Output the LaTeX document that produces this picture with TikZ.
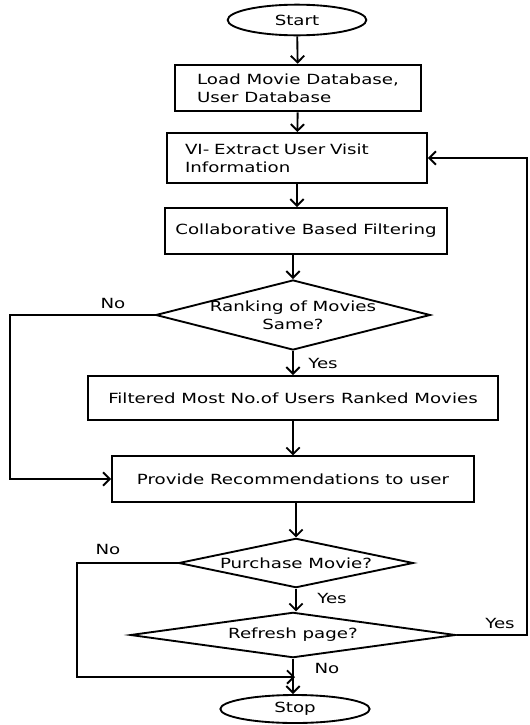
\documentclass[tikz,border=0pt]{standalone}
\usepackage{fontspec}
\setmainfont{DejaVu Sans}[FakeStretch=1.3]
\usetikzlibrary{arrows.meta,shapes}

\begin{document}
\begin{tikzpicture}[x=0.75pt,y=-0.75pt,line width=1.4pt,
  every node/.style={font=\fontsize{10.5}{13.5}\selectfont},
  >={Straight Barb[length=5pt,width=10pt]},
  term/.style={draw,ellipse,inner sep=0pt},
  box/.style={draw,rectangle,inner sep=0pt},
  decision/.style={draw,diamond,inner xsep=0pt,inner ysep=-4pt,align=center}]
\useasboundingbox (0,0) rectangle (530,725);

\node[term, minimum width=104pt, minimum height=23pt] (start) at (297,20) {Start};

\node[box, minimum width=185pt, minimum height=35pt, align=left] (load) at (298,88) {Load Movie Database,\\User Database};

\node[box, minimum width=195pt, minimum height=37.5pt, text width=168pt, align=left] (visit) at (297,158) {VI- Extract User Visit\\Information};

\node[box, minimum width=212pt, minimum height=34.5pt] (collab) at (306,231) {Collaborative Based Filtering};

\node[decision, aspect=3.9, minimum width=206pt, minimum height=52.5pt] (rank) at (293,315) {Ranking of Movies\\Same?};

\node[box, minimum width=308pt, minimum height=33pt] (filtered) at (293,398) {Filtered Most No.of Users Ranked Movies};

\node[box, minimum width=271.5pt, minimum height=34pt] (provide) at (293,479) {Provide Recommendations to user};

\node[decision, aspect=4.8, minimum width=176pt, minimum height=37pt] (purchase) at (296,563) {Purchase Movie?};

\node[decision, aspect=7.2, minimum width=244pt, minimum height=34pt] (refresh) at (293,635) {Refresh page?};

\node[term, minimum width=112pt, minimum height=21pt] (stop) at (295,709) {Stop};

% labels on the branches
\node (rankno) at (113,303) {No};
\node (rankyes) at (323,363) {Yes};
\node (buyno) at (108,549) {No};
\node (buyyes) at (332,598) {Yes};
\node (refyes) at (500,623) {Yes};
\node (refno) at (327,668) {No};

\coordinate (back) at (527,0);
\coordinate (leftA) at (10,0);
\coordinate (leftB) at (77,677);

\draw[->] (start) -- (load);
\draw[->] (load) -- (visit);
\draw[->] (visit) -- (visit |- collab.north);
\draw[->] (collab.south -| rank.north) -- (rank.north);
\draw[->] (rank) -- (filtered);
\draw[->] (filtered) -- (provide);
\draw[->] (provide.south -| purchase.north) -- (purchase.north);
\draw[->] (purchase.south) -- (purchase.south |- refresh.north);
\draw[->] (refresh.south) -- (refresh.south |- stop.north);

\draw[->] (rank.west) -- (rank.west -| leftA) |- (provide.west);
\draw[->] (purchase.west) -| (leftB) -- (leftB -| stop.north);
\draw[->] (refresh.east) -- (refresh.east -| back) |- (visit.east);

\end{tikzpicture}
\end{document}
